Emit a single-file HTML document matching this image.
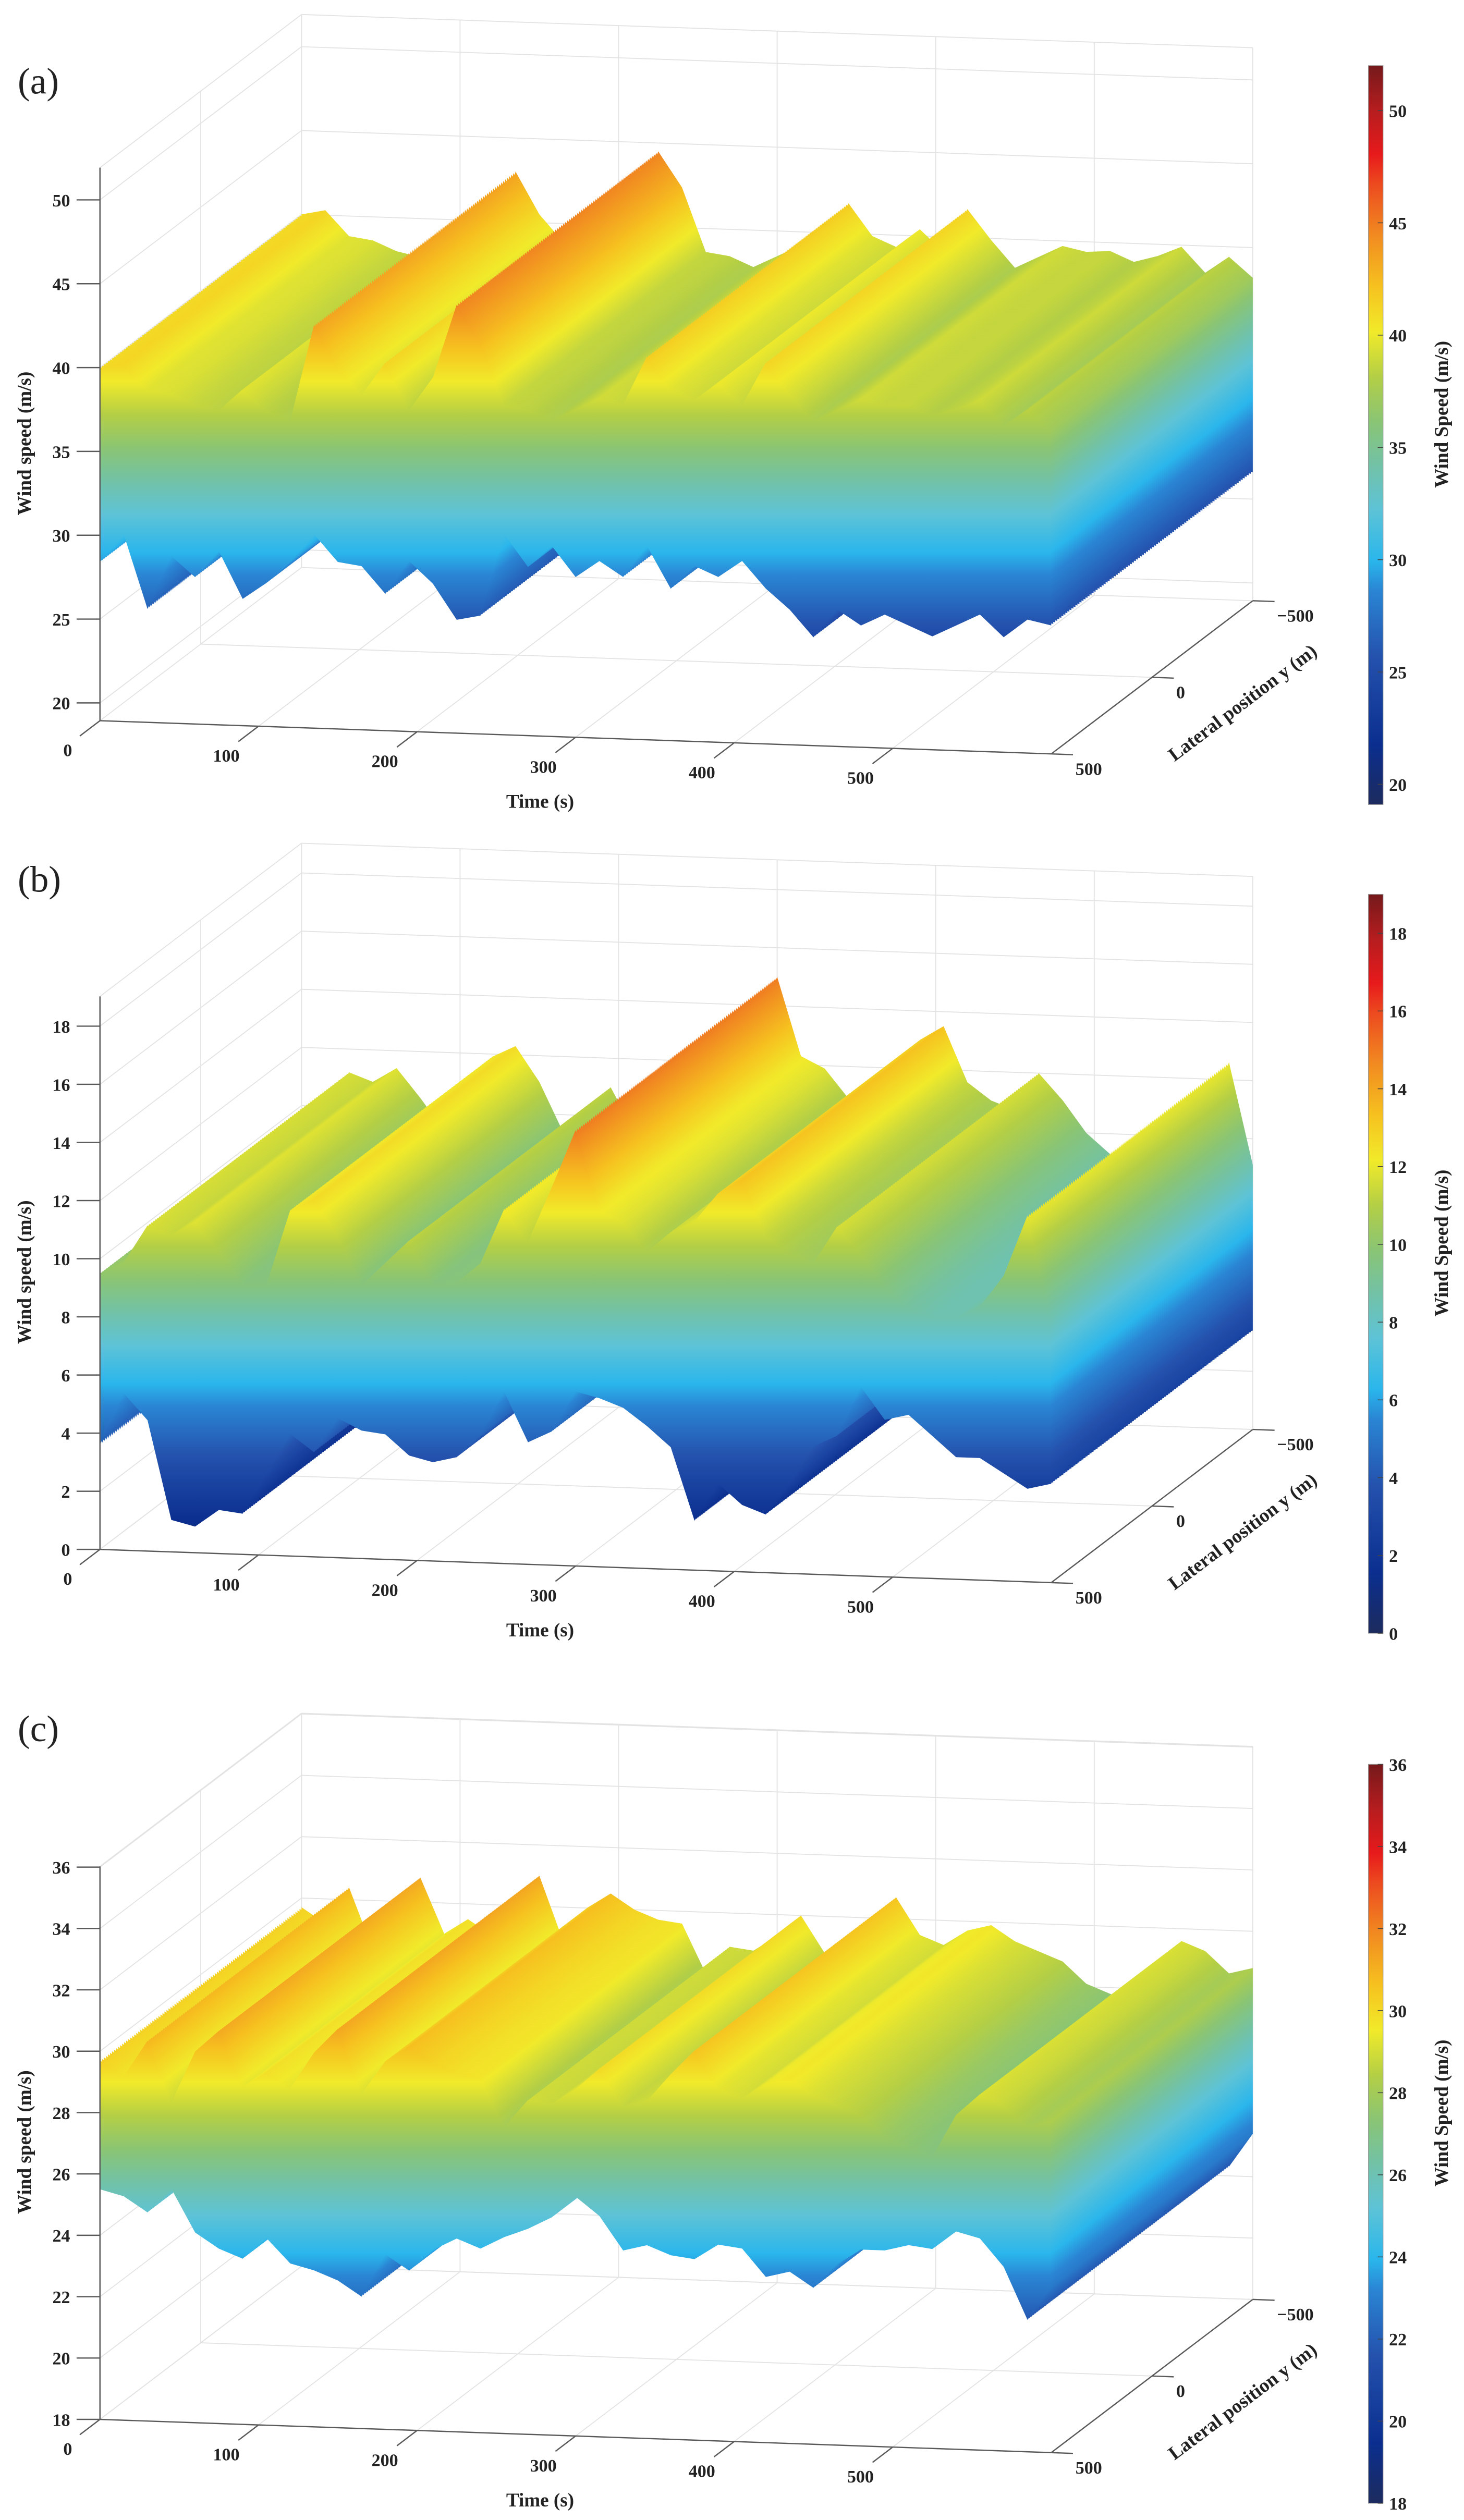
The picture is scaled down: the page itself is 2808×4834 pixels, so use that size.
<!DOCTYPE html>
<html>
<head>
<meta charset="utf-8">
<style>
  html,body{margin:0;padding:0;background:#fff;}
  svg{display:block;}
  text{font-family:"Liberation Serif",serif;fill:#222;}
  .tk{font-size:11px;font-weight:bold;}
  .ttl{font-size:12px;font-weight:bold;}
  .plabel{font-size:23px;font-weight:normal;}
</style>
</head>
<body>
<svg id="fig" xmlns="http://www.w3.org/2000/svg" width="2808" height="4834" viewBox="0 0 908 1563" preserveAspectRatio="none">
  <defs id="defs"></defs>
  <g id="panel-a">
    <text class="plabel" x="11" y="58">(a)</text>
  </g>
  <g id="panel-b">
    <text class="plabel" x="11" y="553">(b)</text>
  </g>
  <g id="panel-c">
    <text class="plabel" x="11" y="1080">(c)</text>
  </g>
</svg>
<script>
// ---------- data ----------
const timeSec = [0,15,30,45,60,75,90,105,120,135,150,165,180,195,210,225,240,255,270,285,300,315,330,345,360,375,390,405,420,435,450,465,480,495,510,525,540,555,570,585,600];

// panel (a): upper and lower envelope of wind speed per time
const hiA = [40.0,40.3,38.8,38.6,38.0,37.7,39.0,37.8,37.2,43.0,40.5,38.9,40.9,38.1,40.1,44.5,42.4,38.6,38.4,37.8,38.5,39.2,38.9,41.8,39.9,39.3,40.4,39.1,41.7,39.9,38.3,39.0,39.7,39.4,39.5,38.9,39.3,39.9,38.4,39.4,38.2];
const loA = [28.4,30.1,25.7,28.9,27.7,29.3,26.5,27.5,28.8,30.5,28.9,28.7,27.1,29.1,27.8,25.7,26.0,30.9,29.0,30.3,28.5,29.5,28.6,30.5,28.0,29.4,28.8,29.8,28.2,27.0,25.4,27.1,26.2,26.9,26.3,25.7,26.4,27.1,25.8,26.9,26.6];

// panel (b)
const hiB = [9.5,9.9,11.2,10.9,11.4,10.4,9.3,9.3,11.9,12.3,11.1,9.4,10.2,11.0,9.5,9.6,10.3,12.2,11.1,13.0,15.0,12.3,11.9,10.9,11.6,12.0,13.0,13.5,11.6,11.0,10.7,12.0,11.1,10.0,9.3,9.0,9.0,9.4,10.5,12.6,9.1];
const loB = [3.6,5.4,4.5,1.1,0.9,1.5,1.4,2.8,4.2,3.6,4.8,4.4,4.3,3.6,3.4,3.6,4.4,5.9,4.2,4.6,6.0,5.8,5.5,4.9,4.2,1.7,3.0,2.3,2.0,3.1,4.4,4.8,6.5,5.4,5.6,4.9,4.2,4.2,3.7,3.2,3.4];

// panel (c)
const hiC = [29.7,29.2,30.4,28.4,30.1,30.8,29.0,29.5,29.0,30.2,31.0,28.9,30.0,30.5,30.0,29.7,29.6,28.0,28.9,28.8,29.3,30.0,28.8,29.0,29.9,30.7,29.5,29.2,29.7,29.9,29.4,29.1,28.8,28.1,27.8,27.5,28.9,29.6,29.3,28.6,28.8];
const loC = [25.5,25.3,24.8,25.6,24.2,23.7,23.4,24.1,23.3,23.1,22.8,22.3,23.7,23.2,23.9,24.3,24.0,24.4,24.7,25.1,25.8,25.2,24.1,24.3,24.0,23.9,24.4,24.3,23.4,23.6,23.1,23.9,24.4,24.4,24.6,24.5,25.1,24.9,24.0,22.3,23.4];

// tick labels
const timeTicks = [0,100,200,300,400,500];
const latTicks = [-500,0,500];
const zTicksA = [20,25,30,35,40,45,50];
const zTicksB = [0,2,4,6,8,10,12,14,16,18];
const zTicksC = [18,20,22,24,26,28,30,32,34,36];
const cbTicksA = [20,25,30,35,40,45,50];
const cbTicksB = [0,2,4,6,8,10,12,14,16,18];
const cbTicksC = [18,20,22,24,26,28,30,32,34,36];

// ---------- rendering ----------
const NS = 'http://www.w3.org/2000/svg';
const CMAP = [[0,'#1d2b5e'],[0.08,'#0b2e8e'],[0.2,'#2452ad'],[0.29,'#2a86d4'],[0.33,'#2ab6ec'],[0.4,'#5ec3d6'],[0.46,'#72c2a6'],[0.52,'#8bc573'],[0.58,'#b4cf45'],[0.64,'#f1ea2a'],[0.7,'#f6c21f'],[0.77,'#f18b21'],[0.84,'#ec4a1f'],[0.88,'#e71a1b'],[0.94,'#b51d1f'],[1,'#75191b']];
const defs = document.getElementById('defs');
const TDX = 590/600, TDY = 20.6/600, LX = 125, LY = -95, ZH = 343;

function mk(tag, attrs, parent){
  const e = document.createElementNS(NS, tag);
  for (const k in attrs) e.setAttribute(k, attrs[k]);
  parent.appendChild(e);
  return e;
}
function latU(y){ return (500 - y)/1000; }

function drawPanel(id, P, lo, hi, zTicks, cbTicks){
  const g = document.getElementById(id);
  const zmax = P.zmin + ZH/P.kz;
  const proj = (t,u,v) => [P.x0 + t*TDX + LX*u, P.y0 + t*TDY + LY*u - (v-P.zmin)*P.kz];
  const grid = mk('g', {}, g);
  
  
  const gs = {stroke:'#e3e3e3','stroke-width':0.6,fill:'none'};
  function line(a,b,st,parent){ return mk('line', Object.assign({x1:a[0],y1:a[1],x2:b[0],y2:b[1]}, st), parent); }
  zTicks.forEach(z => {
    line(proj(0,0,z), proj(0,1,z), gs, grid);
    line(proj(0,1,z), proj(600,1,z), gs, grid);
  });
  timeTicks.concat([600]).forEach(t => {
    line(proj(t,0,P.zmin), proj(t,1,P.zmin), gs, grid);
    line(proj(t,1,P.zmin), proj(t,1,zmax), gs, grid);
  });
  latTicks.forEach(y => {
    const u = latU(y);
    line(proj(0,u,P.zmin), proj(600,u,P.zmin), gs, grid);
    line(proj(0,u,P.zmin), proj(0,u,zmax), gs, grid);
  });
  line(proj(0,0,zmax), proj(0,1,zmax), gs, grid);
  line(proj(0,1,zmax), proj(600,1,zmax), gs, grid);

  // surface: stacked lateral rows (back to front), each spanning lo..hi
  const surf = mk('g', {}, g);
  
  
  const N = 100;
  for (let k=0; k<=N; k++){
    const u = 1 - k/N;
    const gid = id+'-grad-'+k;
    const ya = proj(300, u, P.cmin)[1], yb = proj(300, u, P.cmax)[1];
    const gr = mk('linearGradient', {id:gid, gradientUnits:'userSpaceOnUse', x1:0, y1:ya, x2:0, y2:yb}, defs);
    CMAP.forEach(s => mk('stop', {offset:s[0], 'stop-color':s[1]}, gr));
    const top = timeSec.map((t,i) => proj(t, u, hi[i]));
    const bot = timeSec.map((t,i) => proj(t, u, lo[i])).reverse();
    const pts = top.concat(bot).map(p => p[0].toFixed(2)+','+p[1].toFixed(2)).join(' ');
    const poly = mk('polygon', {points:pts, fill:'url(#'+gid+')', stroke:'none'}, surf);
    
    
  }

  // axes
  const ax = mk('g', {}, g);
  
  
  const as = {stroke:'#5a5a5a','stroke-width':0.8};
  const zAxis = line(proj(0,0,P.zmin), proj(0,0,zmax), as, ax);
  
  
  const tAxis = line(proj(0,0,P.zmin), proj(600,0,P.zmin), as, ax);
  
  
  const lAxis = line(proj(600,0,P.zmin), proj(600,1,P.zmin), as, ax);
  
  

  zTicks.forEach(z => {
    const p = proj(0,0,z);
    line([p[0]-14.5,p[1]], p, as, ax);
    const t = mk('text', {x:p[0]-18.5, y:p[1]+4, 'text-anchor':'end', class:'tk'}, ax);
    t.textContent = String(z);
    
    
  });
  timeTicks.forEach(tt => {
    const p = proj(tt,0,P.zmin);
    line(p, [p[0]-12.5, p[1]+9.5], as, ax);
    const t = mk('text', {x:p[0]-20, y:p[1]+22, 'text-anchor':'middle', class:'tk'}, ax);
    t.textContent = String(tt);
    
    
  });
  latTicks.forEach(y => {
    const p = proj(600, latU(y), P.zmin);
    line(p, [p[0]+13.5, p[1]+0.5], as, ax);
    const t = mk('text', {x:p[0]+15, y:p[1]+13, 'text-anchor':'start', class:'tk'}, ax);
    t.textContent = y < 0 ? '\u2212' + Math.abs(y) : String(y);
    
    
  });

  const zt = mk('text', {x:0, y:0, 'text-anchor':'middle', class:'ttl', transform:'translate('+(P.x0-43)+','+(P.y0-172)+') rotate(-90)'}, ax);
  zt.textContent = 'Wind speed (m/s)';
  
  
  const tt = mk('text', {x:P.x0+273, y:P.y0+54, 'text-anchor':'middle', class:'ttl'}, ax);
  tt.textContent = 'Time (s)';
  
  
  const lt = mk('text', {x:0, y:0, 'text-anchor':'middle', class:'ttl', transform:'translate('+(P.x0+711)+','+(P.y0-8)+') rotate(-37)'}, ax);
  lt.textContent = 'Lateral position y (m)';
  
  

  // colorbar
  const cb = mk('g', {}, g);
  
  
  const cTop = P.y0 - 406.3, cBot = P.y0 + 52;
  const cgid = id+'-cbgrad';
  const cgr = mk('linearGradient', {id:cgid, x1:0, y1:1, x2:0, y2:0}, defs);
  CMAP.forEach(s => mk('stop', {offset:s[0], 'stop-color':s[1]}, cgr));
  mk('rect', {x:848.7, y:cTop, width:9.1, height:cBot-cTop, fill:'url(#'+cgid+')', stroke:'#9a9a9a', 'stroke-width':0.4}, cb);
  const cy = v => cBot - (v-P.cmin)/(P.cmax-P.cmin)*(cBot-cTop);
  cbTicks.forEach(v => {
    const y = cy(v);
    line([854.5,y],[857.8,y],{stroke:'#444','stroke-width':0.5}, cb);
    const t = mk('text', {x:861.5, y:y+4, 'text-anchor':'start', class:'tk'}, cb);
    t.textContent = String(v);
    
    
  });
  const ct = mk('text', {x:0, y:0, 'text-anchor':'middle', class:'ttl', transform:'translate(898,'+(P.y0-190)+') rotate(-90)'}, cb);
  ct.textContent = 'Wind Speed (m/s)';
  
  
}

drawPanel('panel-a', {x0:62, y0:447, zmin:18.94, kz:10.4, cmin:19.1, cmax:52}, loA, hiA, zTicksA, cbTicksA);
drawPanel('panel-b', {x0:62, y0:961, zmin:0, kz:18.03, cmin:0, cmax:19}, loB, hiB, zTicksB, cbTicksB);
drawPanel('panel-c', {x0:62, y0:1500.6, zmin:18, kz:19.03, cmin:18, cmax:36}, loC, hiC, zTicksC, cbTicksC);
</script>
</body>
</html>
